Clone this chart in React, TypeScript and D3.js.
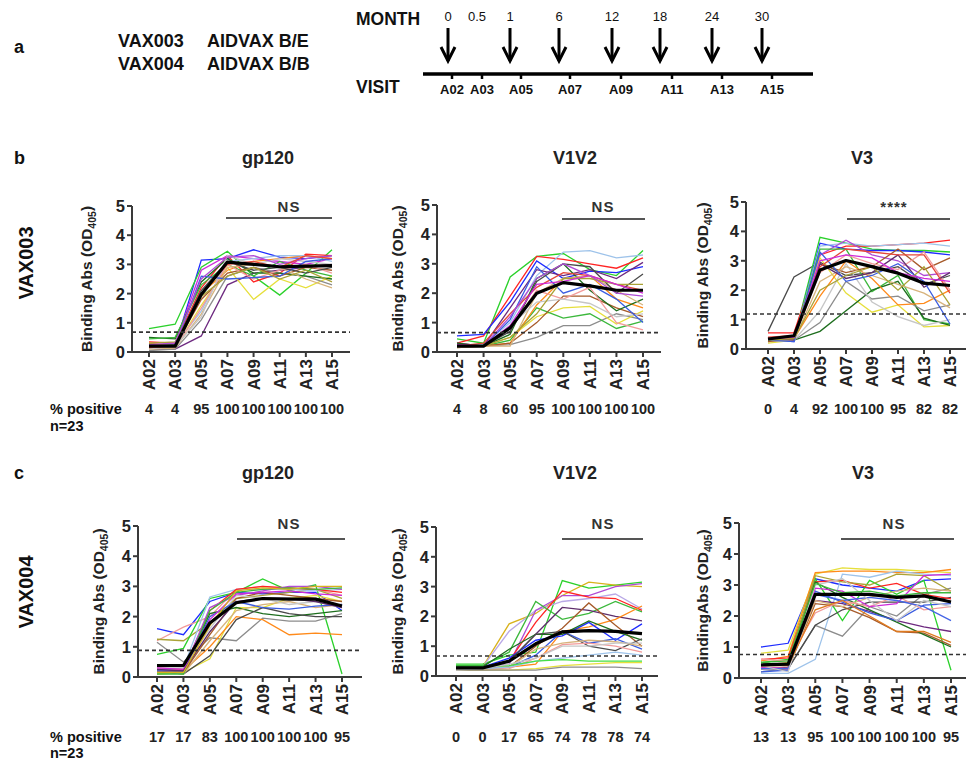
import React from 'react';
import * as d3 from 'd3';

// ---------- data ----------
const VISITS = ['A02', 'A03', 'A05', 'A07', 'A09', 'A11', 'A13', 'A15'];
const MONTHS = ['0', '0.5', '1', '6', '12', '18', '24', '30'];
const ARROW_MONTHS = ['0', '1', '6', '12', '18', '24', '30'];
const MONTH_POS = [448, 477, 510, 559, 612, 660, 712, 762];
const VISIT_POS = [452, 482, 521, 570, 621, 672, 722, 772];

const PCT_B_GP120 = [4, 4, 95, 100, 100, 100, 100, 100];
const PCT_B_V1V2 = [4, 8, 60, 95, 100, 100, 100, 100];
const PCT_B_V3 = [0, 4, 92, 100, 100, 95, 82, 82];
const PCT_C_GP120 = [17, 17, 83, 100, 100, 100, 100, 95];
const PCT_C_V1V2 = [0, 0, 17, 65, 74, 78, 78, 74];
const PCT_C_V3 = [13, 13, 95, 100, 100, 100, 100, 95];

const MEAN_B_GP120 = [0.2, 0.2, 1.97, 3.08, 3.0, 2.92, 2.94, 2.96];
const MEAN_B_V1V2 = [0.2, 0.2, 0.82, 2.0, 2.36, 2.25, 2.1, 2.1];
const MEAN_B_V3 = [0.34, 0.45, 2.69, 3.01, 2.8, 2.58, 2.24, 2.16];
const MEAN_C_GP120 = [0.38, 0.38, 1.79, 2.46, 2.6, 2.58, 2.58, 2.35];
const MEAN_C_V1V2 = [0.27, 0.27, 0.5, 1.08, 1.48, 1.52, 1.5, 1.42];
const MEAN_C_V3 = [0.42, 0.45, 2.7, 2.7, 2.7, 2.6, 2.65, 2.45];

const CUTOFFS = { bgp: 0.68, bv12: 0.66, bv3: 1.19, cgp: 0.88, cv12: 0.67, cv3: 0.76 };

const LINES_B_GP120: [string, number[]][] = [
  ['blue', [0.15, 0.2, 3.15, 3.2, 3.5, 3.25, 3.2, 3.3]],
  ['green', [0.8, 0.95, 2.9, 3.45, 2.6, 1.95, 2.7, 3.5]],
  ['red', [0.35, 0.3, 2.2, 3.3, 2.4, 2.7, 3.35, 3.3]],
  ['purple', [0.1, 0.1, 0.55, 2.3, 2.7, 2.8, 2.9, 3.0]],
  ['yellow', [0.1, 0.15, 1.6, 2.9, 1.8, 2.5, 2.2, 2.6]],
  ['magenta', [0.2, 0.3, 2.8, 3.3, 3.2, 3.1, 3.0, 3.2]],
  ['orange', [0.3, 0.2, 2.0, 2.8, 3.1, 3.2, 3.3, 3.2]],
  ['gray', [0.05, 0.1, 1.1, 2.6, 2.9, 2.7, 2.6, 2.3]],
  ['lightblue', [0.2, 0.25, 1.4, 3.1, 3.2, 3.3, 3.3, 3.1]],
  ['darkgreen', [0.5, 0.45, 2.4, 3.2, 2.7, 2.7, 2.6, 2.5]],
  ['green2', [0.45, 0.5, 2.3, 3.0, 2.6, 3.1, 2.8, 2.6]],
  ['brown', [0.25, 0.2, 1.8, 2.7, 2.9, 2.6, 2.9, 2.8]],
  ['salmon', [0.15, 0.15, 1.5, 3.0, 2.5, 2.8, 3.0, 2.7]],
  ['tan', [0.1, 0.15, 1.3, 2.9, 3.0, 2.9, 2.5, 2.2]],
  ['silver', [0.1, 0.2, 1.2, 3.3, 3.0, 3.2, 3.1, 3.0]],
  ['blue2', [0.2, 0.2, 2.6, 2.5, 2.55, 2.6, 3.1, 3.2]],
  ['darkgray', [0.2, 0.25, 2.1, 3.1, 2.8, 2.9, 2.7, 2.9]],
  ['olive', [0.3, 0.35, 1.9, 2.6, 2.9, 2.5, 2.8, 2.4]],
  ['purple2', [0.25, 0.3, 2.5, 3.25, 3.3, 3.0, 3.2, 3.3]],
  ['red2', [0.15, 0.2, 2.0, 3.0, 3.1, 2.9, 3.3, 3.2]],
];

const LINES_B_V1V2: [string, number[]][] = [
  ['green', [0.45, 0.3, 2.55, 3.25, 3.35, 2.8, 2.6, 3.45]],
  ['red', [0.3, 0.55, 1.9, 3.25, 3.15, 3.0, 2.85, 3.2]],
  ['lightblue', [0.2, 0.25, 1.0, 2.6, 3.4, 3.45, 3.2, 3.3]],
  ['blue', [0.55, 0.6, 1.7, 3.1, 2.5, 2.75, 2.7, 2.9]],
  ['purple', [0.3, 0.2, 1.5, 2.8, 2.6, 2.8, 2.5, 3.05]],
  ['gray', [0.2, 0.2, 0.25, 0.5, 0.9, 0.9, 1.3, 1.1]],
  ['yellow', [0.2, 0.2, 0.5, 1.2, 1.5, 1.55, 0.95, 1.4]],
  ['green2', [0.25, 0.2, 0.4, 1.5, 1.15, 1.3, 0.8, 1.05]],
  ['orange', [0.2, 0.2, 0.3, 1.6, 2.5, 2.6, 1.8, 1.5]],
  ['brown', [0.15, 0.2, 0.3, 1.0, 1.9, 1.9, 1.5, 1.2]],
  ['darkgreen', [0.3, 0.2, 0.6, 2.5, 3.0, 2.1, 1.4, 1.8]],
  ['salmon', [0.2, 0.2, 0.8, 2.1, 1.8, 2.2, 1.0, 0.75]],
  ['tan', [0.15, 0.2, 0.2, 2.0, 2.5, 2.6, 2.1, 1.6]],
  ['silver', [0.2, 0.2, 0.9, 1.7, 1.8, 1.65, 1.2, 1.3]],
  ['red2', [0.2, 0.3, 1.3, 2.2, 2.7, 2.6, 2.3, 2.1]],
  ['blue2', [0.2, 0.2, 1.1, 2.9, 2.0, 2.3, 1.8, 1.0]],
  ['darkgray', [0.2, 0.2, 0.7, 2.4, 3.0, 2.9, 2.0, 2.65]],
  ['olive', [0.2, 0.2, 0.5, 1.3, 2.5, 2.5, 2.3, 2.3]],
  ['magenta', [0.25, 0.2, 0.9, 2.3, 2.4, 2.6, 2.3, 2.0]],
  ['purple2', [0.2, 0.2, 1.2, 2.5, 3.0, 2.6, 2.0, 1.9]],
];

const LINES_B_V3: [string, number[]][] = [
  ['darkgray', [0.6, 2.45, 2.95, 2.5, 2.6, 2.8, 2.2, 2.5]],
  ['green', [0.3, 0.35, 3.8, 3.6, 3.4, 3.35, 3.35, 3.3]],
  ['red', [0.55, 0.55, 3.2, 3.5, 3.5, 3.55, 3.6, 3.7]],
  ['blue', [0.3, 0.25, 3.6, 3.4, 3.35, 3.35, 3.3, 3.2]],
  ['lightblue', [0.25, 0.3, 3.5, 3.6, 3.5, 3.55, 3.6, 3.5]],
  ['purple2', [0.3, 0.3, 3.2, 3.7, 3.2, 3.0, 2.5, 2.6]],
  ['yellow', [0.2, 0.3, 3.1, 1.9, 1.25, 1.5, 0.75, 0.8]],
  ['green2', [0.3, 0.3, 3.4, 3.4, 1.95, 2.5, 1.0, 0.85]],
  ['darkgreen', [0.3, 0.3, 0.6, 1.3, 2.0, 2.3, 1.05, 0.8]],
  ['gray', [0.3, 0.3, 0.9, 2.3, 1.7, 1.8, 1.3, 1.5]],
  ['silver', [0.25, 0.3, 1.3, 2.9, 1.6, 1.1, 0.8, 1.0]],
  ['orange', [0.3, 0.35, 1.8, 3.0, 2.4, 1.5, 1.55, 2.0]],
  ['brown', [0.25, 0.35, 2.9, 2.6, 2.8, 3.4, 2.7, 3.1]],
  ['salmon', [0.3, 0.4, 2.6, 3.2, 2.9, 2.7, 3.3, 2.0]],
  ['tan', [0.3, 0.3, 2.3, 2.8, 2.5, 2.2, 1.9, 1.4]],
  ['darkpurple', [0.35, 0.3, 2.9, 2.4, 2.6, 3.2, 2.1, 2.6]],
  ['blue2', [0.3, 0.25, 3.3, 2.3, 2.5, 2.9, 2.3, 0.85]],
  ['red2', [0.4, 0.45, 2.8, 3.4, 3.3, 3.2, 3.2, 1.9]],
  ['olive', [0.3, 0.35, 2.0, 2.5, 2.8, 2.0, 2.8, 1.5]],
  ['magenta', [0.35, 0.4, 3.0, 3.2, 3.1, 2.6, 2.4, 2.3]],
];

const LINES_C_GP120: [string, number[]][] = [
  ['blue', [1.6, 1.4, 2.5, 2.8, 2.75, 2.8, 2.8, 2.2]],
  ['salmon', [1.2, 1.65, 2.0, 2.9, 3.0, 2.9, 2.9, 2.7]],
  ['olive', [1.25, 1.2, 1.8, 2.6, 2.7, 2.8, 2.9, 2.6]],
  ['green', [0.75, 0.95, 2.6, 2.8, 3.25, 2.85, 3.05, 0.1]],
  ['gray', [1.15, 0.5, 1.3, 1.2, 1.95, 1.85, 1.85, 2.1]],
  ['yellow', [0.1, 0.15, 0.6, 2.3, 2.3, 2.6, 2.7, 2.5]],
  ['orange', [0.2, 0.2, 1.0, 2.0, 1.9, 1.4, 1.45, 1.4]],
  ['lightblue', [0.2, 0.3, 2.65, 2.9, 2.9, 2.9, 2.85, 2.9]],
  ['red', [0.3, 0.25, 2.2, 2.9, 3.0, 2.95, 2.9, 2.8]],
  ['darkgreen', [0.15, 0.2, 2.1, 2.3, 2.1, 2.0, 2.1, 2.2]],
  ['darkgray', [0.2, 0.1, 0.7, 1.9, 2.3, 2.1, 2.0, 2.0]],
  ['purple2', [0.25, 0.2, 2.3, 2.7, 2.85, 3.0, 3.0, 2.9]],
  ['tan', [0.2, 0.1, 1.2, 2.2, 2.4, 2.5, 2.3, 2.4]],
  ['brown', [0.2, 0.15, 1.4, 2.6, 2.8, 2.7, 2.6, 2.5]],
  ['silver', [0.3, 0.3, 1.6, 2.7, 2.6, 2.4, 2.5, 2.3]],
  ['green2', [0.1, 0.1, 2.2, 2.8, 2.9, 2.95, 2.9, 2.95]],
  ['blue2', [0.2, 0.2, 2.0, 2.5, 2.3, 2.25, 2.35, 2.4]],
  ['magenta', [0.3, 0.25, 1.9, 2.75, 2.8, 2.85, 2.75, 2.7]],
  ['darkpurple', [0.25, 0.2, 1.5, 2.5, 2.6, 2.6, 2.5, 2.3]],
  ['gold', [0.15, 0.15, 1.7, 2.85, 2.95, 2.9, 3.0, 3.0]],
];

const LINES_C_V1V2: [string, number[]][] = [
  ['green', [0.4, 0.4, 0.7, 0.8, 3.2, 2.95, 3.05, 3.15]],
  ['gold', [0.3, 0.3, 1.75, 2.1, 2.7, 3.15, 3.05, 3.0]],
  ['lavender', [0.3, 0.3, 1.5, 2.2, 2.5, 2.6, 2.75, 2.25]],
  ['purple2', [0.25, 0.25, 0.4, 2.2, 2.7, 2.7, 3.0, 3.1]],
  ['red', [0.3, 0.3, 0.5, 1.8, 2.85, 2.65, 2.6, 2.2]],
  ['green2', [0.35, 0.35, 0.8, 2.5, 1.9, 2.1, 2.5, 2.15]],
  ['darkpurple', [0.25, 0.25, 0.5, 1.4, 2.3, 2.2, 2.0, 1.85]],
  ['orange', [0.3, 0.3, 0.3, 0.4, 1.5, 1.65, 1.9, 2.35]],
  ['brown', [0.2, 0.2, 0.3, 1.0, 1.6, 2.45, 1.7, 1.0]],
  ['blue', [0.3, 0.3, 0.6, 1.2, 1.35, 1.8, 1.2, 1.75]],
  ['blue2', [0.25, 0.25, 0.3, 0.7, 1.5, 1.1, 1.25, 0.9]],
  ['darkgreen', [0.3, 0.3, 0.9, 1.4, 1.4, 1.85, 1.5, 1.2]],
  ['darkgray', [0.3, 0.3, 0.5, 1.4, 1.5, 1.0, 0.85, 1.25]],
  ['tan', [0.2, 0.2, 0.3, 0.9, 1.1, 1.2, 1.15, 1.0]],
  ['salmon', [0.2, 0.2, 0.25, 0.6, 1.05, 1.1, 1.0, 0.8]],
  ['yellow', [0.2, 0.2, 0.2, 0.25, 0.35, 0.4, 0.45, 0.45]],
  ['gray', [0.2, 0.2, 0.2, 0.2, 0.3, 0.3, 0.3, 0.25]],
  ['lightblue', [0.25, 0.25, 0.3, 0.5, 0.6, 0.7, 0.8, 0.7]],
  ['green3', [0.3, 0.3, 0.35, 0.5, 0.55, 0.5, 0.5, 0.5]],
  ['silver', [0.2, 0.25, 0.4, 0.6, 1.0, 1.0, 1.1, 1.1]],
];

const LINES_C_V3: [string, number[]][] = [
  ['blue', [1.0, 1.12, 3.2, 3.0, 2.9, 2.8, 3.15, 3.2]],
  ['yellow', [0.8, 0.9, 3.35, 3.55, 3.5, 3.5, 3.45, 3.4]],
  ['orange', [0.55, 0.7, 3.4, 3.45, 3.45, 3.4, 3.4, 3.5]],
  ['lightblue', [0.15, 0.15, 0.6, 3.35, 3.25, 3.45, 3.35, 3.3]],
  ['green', [0.5, 0.6, 3.2, 1.85, 3.15, 2.7, 3.15, 0.25]],
  ['gray', [0.2, 0.3, 1.7, 1.35, 2.3, 2.0, 2.7, 2.9]],
  ['darkgray', [0.3, 0.3, 1.7, 2.2, 2.45, 2.45, 2.45, 2.6]],
  ['red', [0.6, 0.65, 3.1, 3.15, 2.9, 3.05, 2.7, 2.55]],
  ['purple', [0.3, 0.35, 2.5, 2.4, 2.15, 1.85, 1.65, 1.5]],
  ['brown', [0.3, 0.3, 2.4, 2.3, 1.95, 1.5, 1.45, 1.05]],
  ['darkgreen', [0.5, 0.4, 3.1, 2.6, 2.2, 1.8, 1.4, 1.0]],
  ['olive', [0.4, 0.5, 3.3, 3.1, 3.0, 3.35, 3.3, 2.8]],
  ['blue2', [0.2, 0.25, 2.8, 2.45, 2.1, 1.85, 2.35, 2.4]],
  ['tan', [0.35, 0.3, 2.5, 2.3, 2.6, 2.8, 2.9, 2.8]],
  ['salmon', [0.6, 0.55, 2.1, 2.5, 2.3, 2.65, 2.2, 2.3]],
  ['magenta', [0.35, 0.3, 2.9, 2.8, 2.3, 2.4, 3.3, 3.35]],
  ['blue3', [0.3, 0.3, 2.7, 2.5, 2.6, 2.5, 2.3, 1.85]],
  ['silver', [0.4, 0.2, 3.0, 3.2, 2.5, 1.85, 2.5, 2.3]],
  ['orange2', [0.4, 0.4, 2.2, 2.5, 2.0, 1.5, 1.5, 1.15]],
  ['green2', [0.5, 0.55, 3.05, 2.75, 2.8, 2.65, 2.75, 2.75]],
];

// ---------- styles ----------
const COLOR: Record<string, string> = {
  blue: '#1e2cff', green: '#2bd12b', red: '#ff2424', purple: '#6e2a80', yellow: '#e6df3c',
  magenta: '#cf2bd8', orange: '#ff8a1a', gray: '#8c8c8c', lightblue: '#9ec3ea', darkgreen: '#1e6e1e',
  green2: '#3cb83c', brown: '#a65a2a', salmon: '#f29b9b', tan: '#d7b37c', silver: '#c6c6c6',
  blue2: '#3a5ce0', darkgray: '#4a4a4a', olive: '#aaa236', purple2: '#b04cd6', red2: '#e5473a',
  gold: '#d8b21c', darkpurple: '#5e2d6b', orange2: '#df7a1f', green3: '#45e045', blue3: '#4565e6',
  lavender: '#b9a8e6',
};
const FONT = '"Liberation Sans", Arial, sans-serif';
const AX = '#3a3a3a';

type Cfg = {
  axisX: number; y0: number; y5: number; first: number; last: number; axisEnd: number;
  title: string; titleX: number; titleY: number; sig: string; sigX: number; sigY: number;
  barFrom: number; barTo: number; barY: number; labelX: number; label: string;
  cutoff: number; pct: number[]; pctY: number; lines: [string, number[]][]; mean: number[];
};

function Panel({ c }: { c: Cfg }) {
  const x = d3.scalePoint<string>().domain(VISITS).range([c.first, c.last]);
  const y = d3.scaleLinear().domain([0, 5]).range([c.y0, c.y5]);
  const line = d3.line<number>().x((_, i) => x(VISITS[i]) as number).y((d) => y(d));
  const ticks = y.ticks(5);
  const midY = (c.y0 + c.y5) / 2;
  return (
    <g fontFamily={FONT} fontWeight="bold" fill="#222">
      <text x={c.titleX} y={c.titleY} textAnchor="middle" fontSize={18}>{c.title}</text>
      <text x={c.sigX} y={c.sigY} textAnchor="middle" fontSize={15} letterSpacing={1} fill="#333">{c.sig}</text>
      <line x1={c.barFrom} x2={c.barTo} y1={c.barY} y2={c.barY} stroke="#555" strokeWidth={2} />
      <text transform={`translate(${c.labelX},${midY}) rotate(-90)`} textAnchor="middle" fontSize={15.5}>
        {c.label}<tspan fontSize={10.5} dy={4}>405</tspan><tspan dy={-4}>)</tspan>
      </text>
      {c.lines.map(([col, vals], i) => (
        <path key={i} d={line(vals) || ''} fill="none" stroke={COLOR[col]} strokeWidth={1.3} />
      ))}
      <path d={line(c.mean) || ''} fill="none" stroke="#000" strokeWidth={3.2} strokeLinejoin="round" />
      <line x1={c.axisX} x2={c.axisEnd} y1={y(c.cutoff)} y2={y(c.cutoff)} stroke="#333" strokeWidth={1.6} strokeDasharray="4,3" />
      <line x1={c.axisX} x2={c.axisX} y1={c.y0} y2={c.y5} stroke={AX} strokeWidth={2} />
      <line x1={c.axisX} x2={c.axisEnd} y1={c.y0} y2={c.y0} stroke={AX} strokeWidth={2} />
      {ticks.map((t) => (
        <g key={t}>
          <line x1={c.axisX - 5} x2={c.axisX} y1={y(t)} y2={y(t)} stroke={AX} strokeWidth={2} />
          <text x={c.axisX - 7} y={y(t)} dy="0.36em" textAnchor="end" fontSize={16.5}>{t}</text>
        </g>
      ))}
      {VISITS.map((v) => (
        <g key={v}>
          <line x1={x(v)} x2={x(v)} y1={c.y0} y2={c.y0 + 5} stroke={AX} strokeWidth={2} />
          <text transform={`translate(${(x(v) as number) + 6},${c.y0 + 7}) rotate(-90)`} textAnchor="end" fontSize={17}>{v}</text>
        </g>
      ))}
      {c.pct.map((p, i) => (
        <text key={i} x={x(VISITS[i])} y={c.pctY} textAnchor="middle" fontSize={14.5}>{p}</text>
      ))}
    </g>
  );
}

const LBL = 'Binding Abs (OD';

const PANELS: Cfg[] = [
  { axisX: 132, y0: 352, y5: 206, first: 149, last: 332, axisEnd: 350, title: 'gp120', titleX: 268, titleY: 164,
    sig: 'NS', sigX: 289, sigY: 212, barFrom: 226, barTo: 332, barY: 218, labelX: 92, label: LBL,
    cutoff: CUTOFFS.bgp, pct: PCT_B_GP120, pctY: 414, lines: LINES_B_GP120, mean: MEAN_B_GP120 },
  { axisX: 437, y0: 352, y5: 205, first: 457, last: 643, axisEnd: 661, title: 'V1V2', titleX: 575, titleY: 164,
    sig: 'NS', sigX: 603, sigY: 212, barFrom: 562, barTo: 645, barY: 219, labelX: 403, label: LBL,
    cutoff: CUTOFFS.bv12, pct: PCT_B_V1V2, pctY: 414, lines: LINES_B_V1V2, mean: MEAN_B_V1V2 },
  { axisX: 746, y0: 349, y5: 202, first: 768, last: 950, axisEnd: 966, title: 'V3', titleX: 862, titleY: 164,
    sig: '****', sigX: 894, sigY: 212, barFrom: 847, barTo: 950, barY: 219, labelX: 708, label: LBL,
    cutoff: CUTOFFS.bv3, pct: PCT_B_V3, pctY: 414, lines: LINES_B_V3, mean: MEAN_B_V3 },
  { axisX: 138, y0: 677, y5: 526, first: 157, last: 342, axisEnd: 362, title: 'gp120', titleX: 268, titleY: 479,
    sig: 'NS', sigX: 289, sigY: 529, barFrom: 237, barTo: 345, barY: 539, labelX: 104, label: LBL,
    cutoff: CUTOFFS.cgp, pct: PCT_C_GP120, pctY: 742, lines: LINES_C_GP120, mean: MEAN_C_GP120 },
  { axisX: 436, y0: 676, y5: 527, first: 456, last: 642, axisEnd: 658, title: 'V1V2', titleX: 575, titleY: 479,
    sig: 'NS', sigX: 603, sigY: 529, barFrom: 562, barTo: 643, barY: 539, labelX: 403, label: LBL,
    cutoff: CUTOFFS.cv12, pct: PCT_C_V1V2, pctY: 742, lines: LINES_C_V1V2, mean: MEAN_C_V1V2 },
  { axisX: 739, y0: 678, y5: 523, first: 761, last: 951, axisEnd: 966, title: 'V3', titleX: 863, titleY: 479,
    sig: 'NS', sigX: 894, sigY: 529, barFrom: 841, barTo: 954, barY: 539, labelX: 708, label: 'BindingAbs (OD',
    cutoff: CUTOFFS.cv3, pct: PCT_C_V3, pctY: 742, lines: LINES_C_V3, mean: MEAN_C_V3 },
];

function Schedule() {
  const mx = d3.scaleOrdinal<string, number>().domain(MONTHS).range(MONTH_POS);
  const vx = d3.scaleOrdinal<string, number>().domain(VISITS).range(VISIT_POS);
  return (
    <g fontFamily={FONT} fill="#111" fontWeight="bold">
      <text x={14} y={53} fontSize={18}>a</text>
      <text x={118} y={47} fontSize={18}>VAX003</text>
      <text x={207} y={47} fontSize={18}>AIDVAX B/E</text>
      <text x={118} y={70} fontSize={18}>VAX004</text>
      <text x={207} y={70} fontSize={18}>AIDVAX B/B</text>
      <text x={356} y={25} fontSize={17.5}>MONTH</text>
      <text x={356} y={93} fontSize={17.5}>VISIT</text>
      {MONTHS.map((m) => (
        <text key={m} x={mx(m)} y={21} fontSize={13} textAnchor="middle" fontWeight="normal">{m}</text>
      ))}
      {ARROW_MONTHS.map((m) => (
        <g key={m} stroke="#000" strokeWidth={3} fill="none">
          <line x1={mx(m)} x2={mx(m)} y1={28} y2={61} />
          <polyline points={`${mx(m) - 7},47 ${mx(m)},61 ${mx(m) + 7},47`} />
        </g>
      ))}
      <line x1={423} x2={813} y1={74} y2={74} stroke="#000" strokeWidth={3.5} />
      {VISITS.map((v) => (
        <g key={v}>
          <line x1={vx(v)} x2={vx(v)} y1={74} y2={79} stroke="#000" strokeWidth={2.5} />
          <text x={vx(v)} y={94} fontSize={13} textAnchor="middle">{v}</text>
        </g>
      ))}
    </g>
  );
}

export default function App() {
  return (
    <svg width={966} height={761} style={{ display: 'block', position: 'absolute', left: 0, top: 0 }}>
      <rect width={966} height={761} fill="#fff" />
      <Schedule />
      <g fontFamily={FONT} fontWeight="bold" fill="#111">
        <text x={14} y={164} fontSize={18}>b</text>
        <text x={14} y={479} fontSize={18}>c</text>
        <text transform="translate(33,263) rotate(-90)" textAnchor="middle" fontSize={20}>VAX003</text>
        <text transform="translate(33,592) rotate(-90)" textAnchor="middle" fontSize={20}>VAX004</text>
        <text x={50} y={414} fontSize={14.5}>% positive</text>
        <text x={50} y={431} fontSize={14.5}>n=23</text>
        <text x={50} y={742} fontSize={14.5}>% positive</text>
        <text x={50} y={758} fontSize={14.5}>n=23</text>
      </g>
      {PANELS.map((p, i) => <Panel key={i} c={p} />)}
    </svg>
  );
}
